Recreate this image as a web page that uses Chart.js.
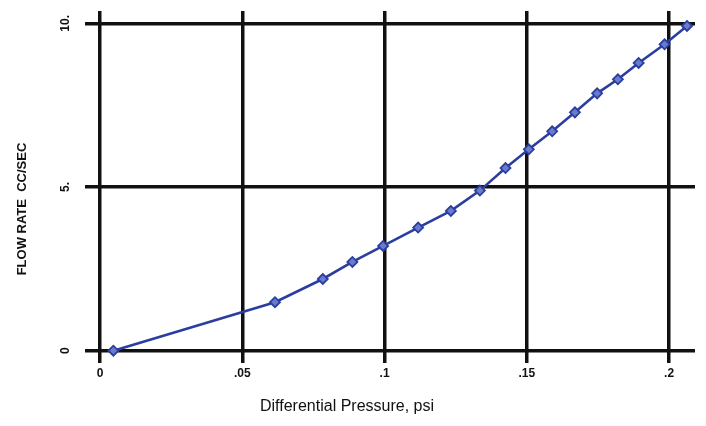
<!DOCTYPE html>
<html>
<head>
<meta charset="utf-8">
<title>Flow rate vs differential pressure</title>
<script src="https://cdn.jsdelivr.net/npm/chart.js@4"></script>
<style>
  html, body { margin: 0; padding: 0; background: #fff; }
  #chart { display: block; }
</style>
</head>
<body>
<canvas id="chart" width="706" height="426"></canvas>
<script>
// data
const pressure = [0.0047, 0.0615, 0.0783, 0.0887, 0.0995, 0.1118, 0.1233, 0.1335, 0.1425,
  0.1507, 0.1589, 0.1669, 0.1747, 0.1820, 0.1893, 0.1984, 0.2063];
const flowRate = [0, 1.48, 2.19, 2.71, 3.20, 3.76, 4.27, 4.89, 5.58,
  6.15, 6.70, 7.28, 7.86, 8.29, 8.79, 9.36, 9.92];

const xTicks = [0, 0.05, 0.1, 0.15, 0.2];
const xTickLabels = ["0", ".05", ".1", ".15", ".2"];
const yTicks = [0, 5, 10];
const yTickLabels = ["0", "5.", "10."];

const xTitle = "Differential Pressure, psi";
const yTitle = "FLOW RATE  CC/SEC";

// custom labels (y tick labels are rotated in the original)
const labelPlugin = {
  id: "labels",
  afterDraw(chart) {
    const ctx = chart.ctx;
    const xs = chart.scales.x;
    const ys = chart.scales.y;
    ctx.save();
    ctx.fillStyle = "#111";
    ctx.textAlign = "center";
    ctx.textBaseline = "middle";

    ctx.font = "bold 12px Arial, 'Liberation Sans', sans-serif";
    xTicks.forEach((v, i) => {
      ctx.fillText(xTickLabels[i], xs.getPixelForValue(v), 374);
    });

    yTicks.forEach((v, i) => {
      ctx.save();
      ctx.translate(66, ys.getPixelForValue(v));
      ctx.rotate(-Math.PI / 2);
      ctx.fillText(yTickLabels[i], 0, 0);
      ctx.restore();
    });

    ctx.save();
    ctx.translate(22, 209);
    ctx.rotate(-Math.PI / 2);
    ctx.font = "bold 13px Arial, 'Liberation Sans', sans-serif";
    ctx.fillText(yTitle, 0, 0);
    ctx.restore();

    ctx.font = "16px Arial, 'Liberation Sans', sans-serif";
    ctx.fillText(xTitle, 347, 407);
    ctx.restore();
  }
};

const ctx = document.getElementById("chart").getContext("2d");
new Chart(ctx, {
  type: "scatter",
  data: {
    datasets: [{
      data: pressure.map((p, i) => ({ x: p, y: flowRate[i] })),
      showLine: true,
      borderColor: "#2b3ea0",
      borderWidth: 2.6,
      pointStyle: "rectRot",
      pointRadius: 5,
      pointBackgroundColor: "#6a7bcc",
      pointBorderColor: "#2b3ea0",
      pointBorderWidth: 1.8,
      tension: 0
    }]
  },
  options: {
    responsive: false,
    animation: false,
    devicePixelRatio: 1,
    layout: { padding: { left: 85, right: 11, top: 11, bottom: 63 } },
    plugins: {
      legend: { display: false },
      tooltip: { enabled: false }
    },
    scales: {
      x: {
        type: "linear",
        min: -0.00527,
        max: 0.2091,
        afterBuildTicks: (s) => { s.ticks = xTicks.map(v => ({ value: v })); },
        ticks: { display: false },
        grid: { color: "#111", lineWidth: 3.5, drawTicks: false },
        border: { display: false }
      },
      y: {
        type: "linear",
        min: -0.376,
        max: 10.376,
        afterBuildTicks: (s) => { s.ticks = yTicks.map(v => ({ value: v })); },
        ticks: { display: false },
        grid: { color: "#111", lineWidth: 3.5, drawTicks: false },
        border: { display: false }
      }
    }
  },
  plugins: [labelPlugin]
});
</script>
</body>
</html>
